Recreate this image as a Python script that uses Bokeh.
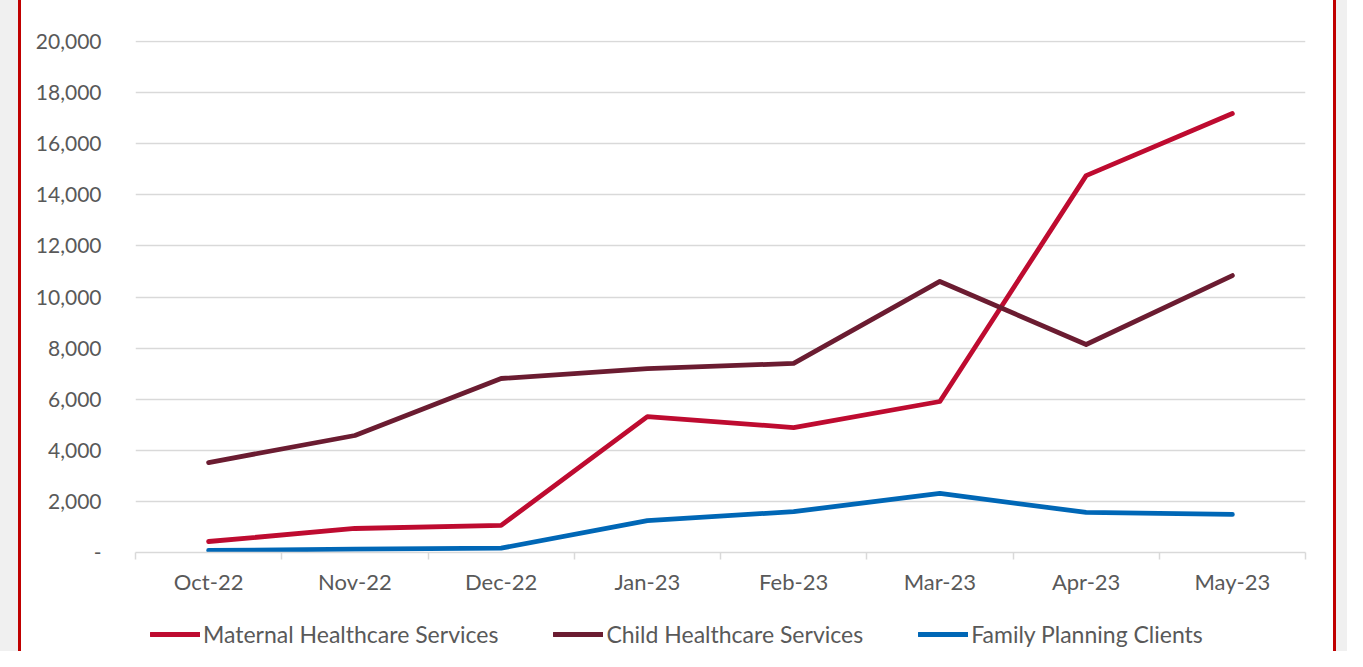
from bokeh.plotting import figure
from bokeh.models import (Range1d, FixedTicker, CustomJSTickFormatter, NumeralTickFormatter,
                          Legend, LegendItem, Spacer, ColumnDataSource)
from bokeh.layouts import row, column
from bokeh.embed import file_html
from bokeh.resources import INLINE

months = ["Oct-22", "Nov-22", "Dec-22", "Jan-23", "Feb-23", "Mar-23", "Apr-23", "May-23"]
maternal = [430, 940, 1060, 5320, 4890, 5910, 14750, 17180]
child = [3520, 4580, 6810, 7200, 7400, 10610, 8140, 10840]
family_planning = [80, 130, 170, 1250, 1600, 2310, 1570, 1490]
series_names = ["Maternal Healthcare Services", "Child Healthcare Services", "Family Planning Clients"]
series_colors = ["#BE0B30", "#6B1C31", "#0067B6"]
y_ticks = list(range(0, 20001, 2000))

FONT = "Lato"
TXT = "#595959"
GRID = "#d9d9d9"
LW = 4.8

xpos = [i + 0.5 for i in range(len(months))]
src = ColumnDataSource(dict(x=xpos, maternal=maternal, child=child, fp=family_planning))
cols = ["maternal", "child", "fp"]

FIG_W = 1312
p = figure(width=FIG_W, height=600, output_backend="svg", toolbar_location=None,
           x_range=Range1d(0, len(months)), y_range=Range1d(0, 20040),
           min_border_left=114, min_border_right=28, min_border_top=40, min_border_bottom=48)
p.outline_line_color = None
p.background_fill_color = "white"
p.border_fill_color = "white"

for col, color in zip(cols, series_colors):
    p.line("x", col, source=src, line_width=LW, line_color=color,
           line_cap="round", line_join="round")

# x axis
xa = p.xaxis[0]
xa.ticker = FixedTicker(ticks=xpos, minor_ticks=list(range(len(months) + 1)))
xa.formatter = CustomJSTickFormatter(args=dict(labels=months),
                                     code="return labels[Math.floor(tick)];")
xa.major_tick_out = 0
xa.major_tick_in = 0
xa.minor_tick_out = 7
xa.minor_tick_in = 0
xa.minor_tick_line_color = GRID
xa.minor_tick_line_width = 1.5
xa.axis_line_color = GRID
xa.axis_line_width = 1.5
xa.major_label_text_font = FONT
xa.major_label_text_font_size = "22px"
xa.major_label_text_color = TXT
xa.major_label_standoff = 8

# y axis
ya = p.yaxis[0]
ya.ticker = FixedTicker(ticks=y_ticks)
ya.formatter = NumeralTickFormatter(format="0,0")
ya.major_label_overrides = {0: "-"}
ya.axis_line_color = None
ya.major_tick_line_color = None
ya.minor_tick_line_color = None
ya.major_label_text_font = FONT
ya.major_label_text_font_size = "21px"
ya.major_label_text_color = TXT
ya.major_label_standoff = 28

p.xgrid.grid_line_color = None
p.ygrid.ticker = FixedTicker(ticks=y_ticks)
p.ygrid.grid_line_color = GRID
p.ygrid.grid_line_width = 1.5

# legend in its own strip below the chart (series drawn outside its visible range)
lf = figure(width=FIG_W, height=51, output_backend="svg", toolbar_location=None,
            x_axis_type=None, y_axis_type=None, min_border=0,
            x_range=Range1d(100, 101), y_range=Range1d(100, 101))
lf.outline_line_color = None
lf.border_fill_color = "white"
lf.background_fill_color = "white"
lf.grid.visible = False
leg_renderers = []
for col, color in zip(cols, series_colors):
    leg_renderers.append(lf.line("x", col, source=src, line_width=LW, line_color=color,
                                 line_cap="round"))

legend = Legend(items=[LegendItem(label=n, renderers=[r]) for n, r in zip(series_names, leg_renderers)],
                orientation="horizontal", location=(15, 3),
                border_line_color=None, background_fill_alpha=0,
                label_text_font=FONT, label_text_font_size="23px", label_text_color=TXT,
                glyph_width=50, glyph_height=20, label_height=20,
                label_standoff=3, spacing=55, margin=0, padding=0)
lf.add_layout(legend)

grey = "#f0f0f0"
red = "#C00000"
layout = row(
    Spacer(width=18, height=651, styles={"background-color": grey}),
    Spacer(width=3, height=651, styles={"background-color": red}),
    column(p, lf, spacing=0),
    Spacer(width=3, height=651, styles={"background-color": red}),
    Spacer(width=11, height=651, styles={"background-color": grey}),
)

open("out.html", "w").write(file_html(layout, INLINE))
